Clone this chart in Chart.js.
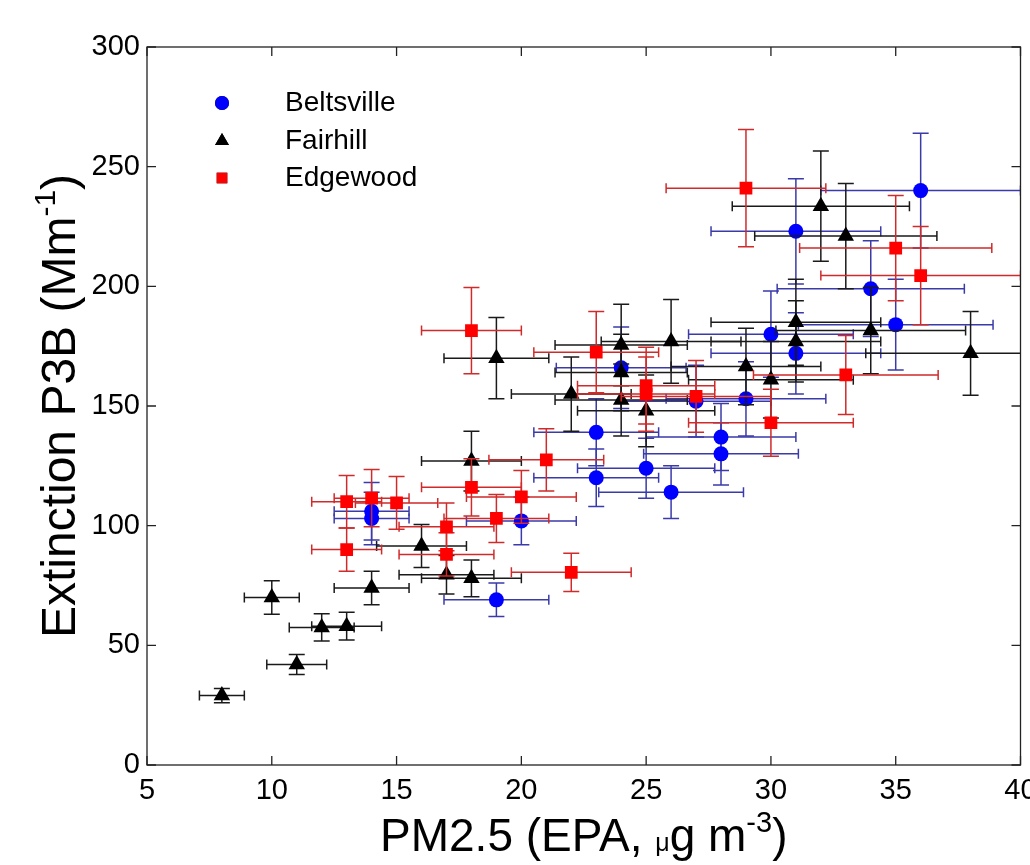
<!DOCTYPE html>
<html>
<head>
<meta charset="utf-8">
<script src="https://cdn.jsdelivr.net/npm/chart.js@4.4.0/dist/chart.umd.min.js"></script>
<style>
  html, body { margin: 0; padding: 0; background: #fff; }
</style>
</head>
<body>
<canvas id="chart" width="1030" height="865"></canvas>
<script>
// ----------------------- DATA -----------------------
const xTicks = [5, 10, 15, 20, 25, 30, 35, 40];
const yTicks = [0, 50, 100, 150, 200, 250, 300];

const beltsvilleX = [14, 14, 19, 20, 23, 23, 24, 25, 26, 27, 28, 28, 29, 30, 31, 31, 34, 35, 36];
const beltsvilleY = [106, 103, 69, 102, 139, 120, 166, 124, 114, 152, 137, 130, 153, 180, 223, 172, 199, 184, 240];
const beltsvilleXErr = [1.5, 1.5, 2.1, 2.2, 2.5, 2.5, 2.6, 2.75, 2.9, 3.0, 3.0, 3.1, 3.2, 3.3, 3.4, 3.4, 3.75, 3.9, 4.0];
const beltsvilleYErr = [12, 11, 7, 10, 14, 12, 17, 12.5, 11, 15, 14, 13, 15.5, 18, 22, 17, 20, 19, 24];

const fairhillX = [8, 10, 11, 12, 13, 14, 16, 17, 18, 18, 19, 22, 24, 24, 24, 25, 26, 29, 30, 31, 31, 32, 33, 34, 38];
const fairhillY = [29, 70, 42, 57.5, 58, 74, 91.5, 79.5, 78, 127, 170, 155, 175.5, 164, 152.5, 148, 177, 166.5, 161, 185, 177, 233.5, 221, 181.5, 172];
const fairhillXErr = [0.9, 1.1, 1.2, 1.3, 1.4, 1.5, 1.8, 1.9, 2.0, 2.0, 2.1, 2.4, 2.65, 2.65, 2.65, 2.75, 2.8, 3.0, 3.3, 3.4, 3.4, 3.55, 3.65, 3.8, 4.2];
const fairhillYErr = [3, 7, 4.2, 5.7, 5.8, 7, 9, 8, 7.7, 12.5, 17, 15.5, 17, 16, 15, 15, 17.5, 16, 16, 18, 17, 23, 22, 18, 17.5];

const edgewoodX = [13, 13, 14, 15, 17, 17, 18, 18, 19, 20, 21, 22, 23, 25, 25, 27, 29, 30, 33, 35, 36];
const edgewoodY = [110, 90, 111.5, 109.5, 99.5, 88, 181.5, 116, 103, 112, 127.5, 80.5, 172.5, 158.5, 155, 154, 241, 143, 163, 216, 204.5];
const edgewoodXErr = [1.4, 1.4, 1.5, 1.65, 1.9, 1.9, 2.0, 2.0, 2.1, 2.2, 2.3, 2.4, 2.5, 2.75, 2.75, 3.0, 3.2, 3.3, 3.7, 3.85, 4.0];
const edgewoodYErr = [11, 9, 12, 11, 10, 9, 18, 12, 10, 11, 13, 8, 17, 16, 15.5, 15, 24.5, 14, 16.5, 22, 20.5];

// ----------------------- UTIL -----------------------
const FONT = "'Liberation Sans', Arial, sans-serif";

function toPoints(xs, ys) {
  return xs.map((x, i) => ({ x: x, y: ys[i] }));
}

// text with superscript / small parts, drawn piece by piece
function drawRich(ctx, parts, x, y, size) {
  let total = 0;
  parts.forEach((p) => {
    ctx.font = Math.round(size * (p.scale || 1)) + "px " + FONT;
    p.w = ctx.measureText(p.t).width;
    total += p.w;
  });
  let cx = x - total / 2;
  parts.forEach((p) => {
    ctx.font = Math.round(size * (p.scale || 1)) + "px " + FONT;
    ctx.fillText(p.t, cx, y - (p.rise || 0) * size);
    cx += p.w;
  });
}

// error bars, drawn just below each dataset's markers
const errorBars = {
  id: "errorBars",
  beforeDatasetDraw(chart, args) {
    const ds = chart.data.datasets[args.index];
    const { ctx, chartArea, scales: { x, y } } = chart;
    ctx.save();
    ctx.beginPath();
    ctx.rect(chartArea.left, chartArea.top, chartArea.width, chartArea.height);
    ctx.clip();
    ctx.strokeStyle = ds.errColor;
    ctx.lineWidth = 1.5;
    const capV = 8, capH = 5;
    ds.data.forEach((p, i) => {
      const px = x.getPixelForValue(p.x);
      const py = y.getPixelForValue(p.y);
      const x0 = x.getPixelForValue(p.x - ds.errX[i]);
      const x1 = x.getPixelForValue(p.x + ds.errX[i]);
      const y0 = y.getPixelForValue(p.y - ds.errY[i]);
      const y1 = y.getPixelForValue(p.y + ds.errY[i]);
      ctx.beginPath();
      ctx.moveTo(x0, py); ctx.lineTo(x1, py);
      ctx.moveTo(x0, py - capH); ctx.lineTo(x0, py + capH);
      ctx.moveTo(x1, py - capH); ctx.lineTo(x1, py + capH);
      ctx.moveTo(px, y0); ctx.lineTo(px, y1);
      ctx.moveTo(px - capV, y0); ctx.lineTo(px + capV, y0);
      ctx.moveTo(px - capV, y1); ctx.lineTo(px + capV, y1);
      ctx.stroke();
    });
    ctx.restore();
  },
};

// matlab style box with inward ticks on all sides
const frame = {
  id: "frame",
  afterDraw(chart) {
    const { ctx, chartArea: { left, right, top, bottom }, scales: { x, y } } = chart;
    const len = 9;
    ctx.save();
    ctx.strokeStyle = "#222";
    ctx.lineWidth = 1.3;
    ctx.strokeRect(left, top, right - left, bottom - top);
    ctx.beginPath();
    xTicks.forEach((v) => {
      const px = x.getPixelForValue(v);
      ctx.moveTo(px, bottom); ctx.lineTo(px, bottom - len);
      ctx.moveTo(px, top); ctx.lineTo(px, top + len);
    });
    yTicks.forEach((v) => {
      const py = y.getPixelForValue(v);
      ctx.moveTo(left, py); ctx.lineTo(left + len, py);
      ctx.moveTo(right, py); ctx.lineTo(right - len, py);
    });
    ctx.stroke();
    ctx.restore();
  },
};

// legend inside the axes, top left
const legendBox = {
  id: "legendBox",
  afterDraw(chart) {
    const { ctx } = chart;
    const rows = [103, 141, 178];
    ctx.save();
    chart.data.datasets.forEach((ds, i) => {
      Chart.helpers.drawPoint(ctx, {
        pointStyle: ds.pointStyle,
        radius: ds.legendRadius,
        borderWidth: 0,
        rotation: 0,
      }, 222, rows[i]);
      ctx.fillStyle = ds.backgroundColor;
      ctx.fill();
      ctx.fillStyle = "#000";
      ctx.font = "28px " + FONT;
      ctx.textBaseline = "middle";
      ctx.textAlign = "left";
      ctx.fillText(ds.label, 285, rows[i]);
    });
    ctx.restore();
  },
};

const axisTitles = {
  id: "axisTitles",
  afterDraw(chart) {
    const { ctx, chartArea: { left, right, top, bottom } } = chart;
    ctx.save();
    ctx.fillStyle = "#000";
    ctx.textBaseline = "alphabetic";
    ctx.textAlign = "left";
    drawRich(ctx, [
      { t: "PM2.5 (EPA, " },
      { t: "\u03bc", scale: 0.55 },
      { t: "g m" },
      { t: "-3", scale: 0.62, rise: 0.42 },
      { t: ")" },
    ], (left + right) / 2, 851, 46);
    ctx.translate(75, (top + bottom) / 2);
    ctx.rotate(-Math.PI / 2);
    drawRich(ctx, [
      { t: "Extinction P3B (Mm" },
      { t: "-1", scale: 0.62, rise: 0.42 },
      { t: ")" },
    ], 0, 0, 48);
    ctx.restore();
  },
};

// ----------------------- CHART -----------------------
const tickFont = { family: FONT, size: 29 };

new Chart(document.getElementById("chart"), {
  type: "scatter",
  data: {
    datasets: [
      {
        label: "Beltsville",
        data: toPoints(beltsvilleX, beltsvilleY),
        errX: beltsvilleXErr,
        errY: beltsvilleYErr,
        errColor: "#3a3aaa",
        pointStyle: "circle",
        pointRadius: 7.5,
        legendRadius: 7,
        backgroundColor: "#0000ff",
        borderColor: "#0000ff",
        borderWidth: 0,
        order: 2,
      },
      {
        label: "Fairhill",
        data: toPoints(fairhillX, fairhillY),
        errX: fairhillXErr,
        errY: fairhillYErr,
        errColor: "#1a1a1a",
        pointStyle: "triangle",
        pointRadius: 9.5,
        legendRadius: 8,
        backgroundColor: "#000000",
        borderColor: "#000000",
        borderWidth: 0,
        order: 1,
      },
      {
        label: "Edgewood",
        data: toPoints(edgewoodX, edgewoodY),
        errX: edgewoodXErr,
        errY: edgewoodYErr,
        errColor: "#d02a2a",
        pointStyle: "rect",
        pointRadius: 9,
        legendRadius: 7.5,
        backgroundColor: "#ff0000",
        borderColor: "#ff0000",
        borderWidth: 0,
        order: 0,
      },
    ],
  },
  options: {
    responsive: false,
    animation: false,
    layout: { padding: { top: 47, right: 6, left: 0, bottom: 0 } },
    plugins: {
      legend: { display: false },
      tooltip: { enabled: false },
    },
    scales: {
      x: {
        type: "linear",
        min: 5,
        max: 40,
        afterBuildTicks(scale) {
          scale.ticks = xTicks.map((v) => ({ value: v }));
        },
        ticks: { font: tickFont, color: "#000", padding: 9, maxRotation: 0, autoSkip: false },
        grid: { display: false, drawTicks: false },
        border: { display: false },
        afterFit(scale) {
          scale.height = 100;
          scale.paddingLeft = 0;
          scale.paddingRight = 0;
        },
      },
      y: {
        type: "linear",
        min: 0,
        max: 300,
        afterBuildTicks(scale) {
          scale.ticks = yTicks.map((v) => ({ value: v }));
        },
        ticks: { font: tickFont, color: "#000", padding: 7 },
        grid: { display: false, drawTicks: false },
        border: { display: false },
        afterFit(scale) {
          scale.width = 147;
          scale.paddingTop = 0;
          scale.paddingBottom = 0;
        },
      },
    },
  },
  plugins: [errorBars, frame, legendBox, axisTitles],
});
</script>
</body>
</html>
